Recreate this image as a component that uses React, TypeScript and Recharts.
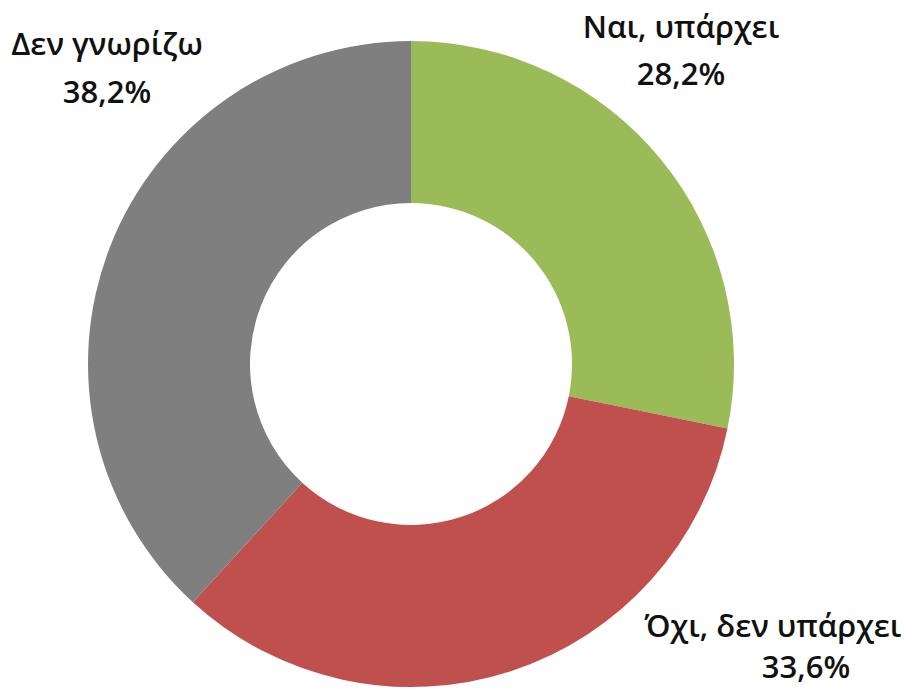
import { Cell, Pie, PieChart } from "recharts";

const CATEGORIES = ["Ναι, υπάρχει", "Όχι, δεν υπάρχει", "Δεν γνωρίζω"];
const VALUES = [28.2, 33.6, 38.2];
const COLORS = ["#9bbb59", "#c0504d", "#7f7f7f"];

// where Excel parked each data label (centre x, baselines of the two lines)
const LABEL_POS = [
  { x: 681, y: 38, x2: 681, y2: 85 },
  { x: 773, y: 637, x2: 806, y2: 678 },
  { x: 107, y: 55, x2: 107, y2: 103 },
];

const data = CATEGORIES.map((name, i) => ({ name, value: VALUES[i] }));

const FONT = "'Open Sans', 'Noto Sans', sans-serif";

function renderLabel(props: any) {
  const i = props.index;
  const p = LABEL_POS[i];
  const pct = VALUES[i].toFixed(1).replace(".", ",") + "%";
  return (
    <g key={`lbl-${i}`}>
      <text x={p.x} y={p.y} textAnchor="middle" fontSize={31} fontWeight={600} fontFamily={FONT} fill="#111">
        {CATEGORIES[i]}
      </text>
      <text x={p.x2} y={p.y2} textAnchor="middle" fontSize={31} fontWeight={600} fontFamily={FONT} fill="#111">
        {pct}
      </text>
    </g>
  );
}

export default function App() {
  return (
    <div style={{ position: "absolute", left: 0, top: 0, width: 912, height: 691, background: "#fff" }}>
      <PieChart width={912} height={691} margin={{ top: 0, right: 0, bottom: 0, left: 0 }}>
        <Pie
          data={data}
          dataKey="value"
          nameKey="name"
          cx={411}
          cy={364}
          innerRadius={161}
          outerRadius={323}
          startAngle={90}
          endAngle={-270}
          stroke="none"
          label={renderLabel}
          labelLine={false}
          isAnimationActive={false}
        >
          {data.map((d, i) => (
            <Cell key={d.name} fill={COLORS[i]} />
          ))}
        </Pie>
      </PieChart>
    </div>
  );
}
